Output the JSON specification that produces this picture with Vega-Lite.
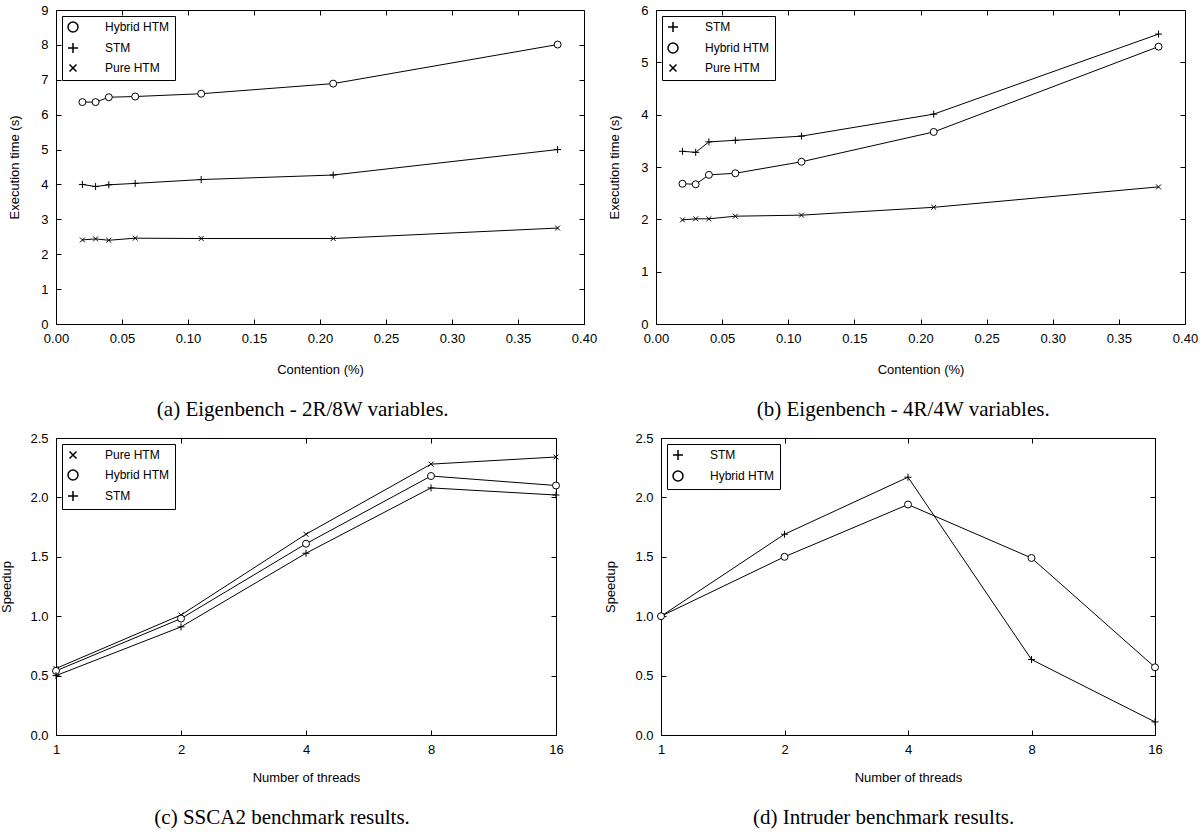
{
  "$schema": "https://vega.github.io/schema/vega-lite/v6.json",
  "background": "white",
  "padding": {"left": 0, "top": 3, "right": 0, "bottom": 0},
  "spacing": 10,
  "config": {
    "view": {"stroke": "black", "strokeWidth": 1},
    "axis": {"grid": false, "domain": false, "tickColor": "black", "tickSize": -5, "labelPadding": 13, "labelFont": "Liberation Sans", "labelFontSize": 13, "labelColor": "black", "titleFont": "Liberation Sans", "titleFontSize": 13, "titleFontWeight": "normal", "titleColor": "black"},
    "legend": {"orient": "top-left", "offset": 6, "strokeColor": "black", "fillColor": "white", "padding": 5, "labelFont": "Liberation Sans", "labelFontSize": 12, "labelColor": "black", "labelOffset": 26, "rowPadding": 5, "cornerRadius": 0},
    "title": {"font": "Liberation Serif", "fontSize": 21, "fontWeight": "normal", "color": "black", "orient": "bottom", "anchor": "middle", "frame": "bounds", "offset": 23}
  },
  "datasets": {
    "a": [
      {"series": "Hybrid HTM", "contention": 0.02, "time": 6.36},
      {"series": "Hybrid HTM", "contention": 0.03, "time": 6.36},
      {"series": "Hybrid HTM", "contention": 0.04, "time": 6.50},
      {"series": "Hybrid HTM", "contention": 0.06, "time": 6.52},
      {"series": "Hybrid HTM", "contention": 0.11, "time": 6.60},
      {"series": "Hybrid HTM", "contention": 0.21, "time": 6.89},
      {"series": "Hybrid HTM", "contention": 0.38, "time": 8.01},
      {"series": "STM", "contention": 0.02, "time": 4.00},
      {"series": "STM", "contention": 0.03, "time": 3.94},
      {"series": "STM", "contention": 0.04, "time": 3.99},
      {"series": "STM", "contention": 0.06, "time": 4.03},
      {"series": "STM", "contention": 0.11, "time": 4.14},
      {"series": "STM", "contention": 0.21, "time": 4.27},
      {"series": "STM", "contention": 0.38, "time": 5.00},
      {"series": "Pure HTM", "contention": 0.02, "time": 2.41},
      {"series": "Pure HTM", "contention": 0.03, "time": 2.44},
      {"series": "Pure HTM", "contention": 0.04, "time": 2.40},
      {"series": "Pure HTM", "contention": 0.06, "time": 2.46},
      {"series": "Pure HTM", "contention": 0.11, "time": 2.45},
      {"series": "Pure HTM", "contention": 0.21, "time": 2.45},
      {"series": "Pure HTM", "contention": 0.38, "time": 2.75}
    ],
    "b": [
      {"series": "STM", "contention": 0.02, "time": 3.30},
      {"series": "STM", "contention": 0.03, "time": 3.28},
      {"series": "STM", "contention": 0.04, "time": 3.48},
      {"series": "STM", "contention": 0.06, "time": 3.51},
      {"series": "STM", "contention": 0.11, "time": 3.59},
      {"series": "STM", "contention": 0.21, "time": 4.01},
      {"series": "STM", "contention": 0.38, "time": 5.54},
      {"series": "Hybrid HTM", "contention": 0.02, "time": 2.68},
      {"series": "Hybrid HTM", "contention": 0.03, "time": 2.67},
      {"series": "Hybrid HTM", "contention": 0.04, "time": 2.85},
      {"series": "Hybrid HTM", "contention": 0.06, "time": 2.88},
      {"series": "Hybrid HTM", "contention": 0.11, "time": 3.10},
      {"series": "Hybrid HTM", "contention": 0.21, "time": 3.67},
      {"series": "Hybrid HTM", "contention": 0.38, "time": 5.30},
      {"series": "Pure HTM", "contention": 0.02, "time": 1.99},
      {"series": "Pure HTM", "contention": 0.03, "time": 2.01},
      {"series": "Pure HTM", "contention": 0.04, "time": 2.01},
      {"series": "Pure HTM", "contention": 0.06, "time": 2.06},
      {"series": "Pure HTM", "contention": 0.11, "time": 2.08},
      {"series": "Pure HTM", "contention": 0.21, "time": 2.23},
      {"series": "Pure HTM", "contention": 0.38, "time": 2.62}
    ],
    "c": [
      {"series": "Pure HTM", "threads": 1, "speedup": 0.56},
      {"series": "Pure HTM", "threads": 2, "speedup": 1.01},
      {"series": "Pure HTM", "threads": 4, "speedup": 1.69},
      {"series": "Pure HTM", "threads": 8, "speedup": 2.28},
      {"series": "Pure HTM", "threads": 16, "speedup": 2.34},
      {"series": "Hybrid HTM", "threads": 1, "speedup": 0.54},
      {"series": "Hybrid HTM", "threads": 2, "speedup": 0.98},
      {"series": "Hybrid HTM", "threads": 4, "speedup": 1.61},
      {"series": "Hybrid HTM", "threads": 8, "speedup": 2.18},
      {"series": "Hybrid HTM", "threads": 16, "speedup": 2.10},
      {"series": "STM", "threads": 1, "speedup": 0.50},
      {"series": "STM", "threads": 2, "speedup": 0.91},
      {"series": "STM", "threads": 4, "speedup": 1.53},
      {"series": "STM", "threads": 8, "speedup": 2.08},
      {"series": "STM", "threads": 16, "speedup": 2.02}
    ],
    "d": [
      {"series": "STM", "threads": 1, "speedup": 1.00},
      {"series": "STM", "threads": 2, "speedup": 1.69},
      {"series": "STM", "threads": 4, "speedup": 2.17},
      {"series": "STM", "threads": 8, "speedup": 0.635},
      {"series": "STM", "threads": 16, "speedup": 0.11},
      {"series": "Hybrid HTM", "threads": 1, "speedup": 1.00},
      {"series": "Hybrid HTM", "threads": 2, "speedup": 1.50},
      {"series": "Hybrid HTM", "threads": 4, "speedup": 1.94},
      {"series": "Hybrid HTM", "threads": 8, "speedup": 1.49},
      {"series": "Hybrid HTM", "threads": 16, "speedup": 0.57}
    ]
  },
  "resolve": {"scale": {"shape": "independent"}, "legend": {"shape": "independent"}},
  "vconcat": [
    {
      "spacing": 10,
      "resolve": {"scale": {"shape": "independent"}, "legend": {"shape": "independent"}},
      "hconcat": [
        {
          "width": 528, "height": 314,
          "title": {"text": "(a) Eigenbench - 2R/8W variables."},
          "data": {"name": "a"},
          "layer": [
            {"mark": {"type": "line", "color": "black", "strokeWidth": 1},
             "encoding": {
               "x": {"field": "contention", "type": "quantitative", "scale": {"domain": [0, 0.4], "nice": false, "zero": false, "padding": 0}, "axis": {"title": "Contention (%)", "values": [0, 0.05, 0.1, 0.15, 0.2, 0.25, 0.3, 0.35, 0.4], "format": ".2f", "labelFlush": false, "titlePadding": 18}},
               "y": {"field": "time", "type": "quantitative", "scale": {"domain": [0, 9], "nice": false, "padding": 0}, "axis": {"title": "Execution time (s)", "values": [0, 1, 2, 3, 4, 5, 6, 7, 8, 9], "format": "d", "labelFlush": false, "titlePadding": 19}},
               "detail": {"field": "series", "type": "nominal"}
             }},
            {"mark": {"type": "point", "filled": true, "fill": "white", "stroke": "black", "strokeWidth": 1, "size": 49, "opacity": 1},
             "encoding": {
               "x": {"field": "contention", "type": "quantitative", "axis": {"orient": "top", "labels": false, "title": null, "values": [0, 0.05, 0.1, 0.15, 0.2, 0.25, 0.3, 0.35, 0.4]}},
               "y": {"field": "time", "type": "quantitative", "axis": {"orient": "right", "labels": false, "title": null, "values": [0, 1, 2, 3, 4, 5, 6, 7, 8, 9]}},
               "shape": {"field": "series", "type": "nominal",
                 "scale": {"domain": ["Hybrid HTM", "STM", "Pure HTM"], "range": ["circle", "M-1,0L1,0M0,-1L0,1", "M-0.7,-0.7L0.7,0.7M-0.7,0.7L0.7,-0.7"]},
                 "legend": {"title": null, "encode": {"symbols": {"size": {"value": 64}, "stroke": {"value": "black"}, "fill": {"value": "white"}}}}}
             }}
          ],
          "resolve": {"axis": {"x": "independent", "y": "independent"}}
        },
        {
          "width": 529, "height": 314,
          "title": {"text": "(b) Eigenbench - 4R/4W variables."},
          "data": {"name": "b"},
          "layer": [
            {"mark": {"type": "line", "color": "black", "strokeWidth": 1},
             "encoding": {
               "x": {"field": "contention", "type": "quantitative", "scale": {"domain": [0, 0.4], "nice": false, "zero": false, "padding": 0}, "axis": {"title": "Contention (%)", "values": [0, 0.05, 0.1, 0.15, 0.2, 0.25, 0.3, 0.35, 0.4], "format": ".2f", "labelFlush": false, "titlePadding": 18}},
               "y": {"field": "time", "type": "quantitative", "scale": {"domain": [0, 6], "nice": false, "padding": 0}, "axis": {"title": "Execution time (s)", "values": [0, 1, 2, 3, 4, 5, 6], "format": "d", "labelFlush": false, "titlePadding": 19}},
               "detail": {"field": "series", "type": "nominal"}
             }},
            {"mark": {"type": "point", "filled": true, "fill": "white", "stroke": "black", "strokeWidth": 1, "size": 49, "opacity": 1},
             "encoding": {
               "x": {"field": "contention", "type": "quantitative", "axis": {"orient": "top", "labels": false, "title": null, "values": [0, 0.05, 0.1, 0.15, 0.2, 0.25, 0.3, 0.35, 0.4]}},
               "y": {"field": "time", "type": "quantitative", "axis": {"orient": "right", "labels": false, "title": null, "values": [0, 1, 2, 3, 4, 5, 6]}},
               "shape": {"field": "series", "type": "nominal",
                 "scale": {"domain": ["STM", "Hybrid HTM", "Pure HTM"], "range": ["M-1,0L1,0M0,-1L0,1", "circle", "M-0.7,-0.7L0.7,0.7M-0.7,0.7L0.7,-0.7"]},
                 "legend": {"title": null, "encode": {"symbols": {"size": {"value": 64}, "stroke": {"value": "black"}, "fill": {"value": "white"}}}}}
             }}
          ],
          "resolve": {"axis": {"x": "independent", "y": "independent"}}
        }
      ]
    },
    {
      "spacing": 40,
      "resolve": {"scale": {"shape": "independent"}, "legend": {"shape": "independent"}},
      "hconcat": [
        {
          "width": 500, "height": 297,
          "title": {"text": "(c) SSCA2 benchmark results."},
          "data": {"name": "c"},
          "layer": [
            {"mark": {"type": "line", "color": "black", "strokeWidth": 1},
             "encoding": {
               "x": {"field": "threads", "type": "quantitative", "scale": {"type": "log", "base": 2, "domain": [1, 16], "nice": false, "padding": 0}, "axis": {"title": "Number of threads", "values": [1, 2, 4, 8, 16], "format": "d", "labelFlush": false, "titlePadding": 15}},
               "y": {"field": "speedup", "type": "quantitative", "scale": {"domain": [0, 2.5], "nice": false, "padding": 0}, "axis": {"title": "Speedup", "values": [0, 0.5, 1, 1.5, 2, 2.5], "format": ".1f", "labelFlush": false, "titlePadding": 16}},
               "detail": {"field": "series", "type": "nominal"}
             }},
            {"mark": {"type": "point", "filled": true, "fill": "white", "stroke": "black", "strokeWidth": 1, "size": 49, "opacity": 1},
             "encoding": {
               "x": {"field": "threads", "type": "quantitative", "axis": {"orient": "top", "labels": false, "title": null, "values": [1, 2, 4, 8, 16]}},
               "y": {"field": "speedup", "type": "quantitative", "axis": {"orient": "right", "labels": false, "title": null, "values": [0, 0.5, 1, 1.5, 2, 2.5]}},
               "shape": {"field": "series", "type": "nominal",
                 "scale": {"domain": ["Pure HTM", "Hybrid HTM", "STM"], "range": ["M-0.7,-0.7L0.7,0.7M-0.7,0.7L0.7,-0.7", "circle", "M-1,0L1,0M0,-1L0,1"]},
                 "legend": {"title": null, "encode": {"symbols": {"size": {"value": 64}, "stroke": {"value": "black"}, "fill": {"value": "white"}}}}}
             }}
          ],
          "resolve": {"axis": {"x": "independent", "y": "independent"}}
        },
        {
          "width": 494, "height": 297,
          "title": {"text": "(d) Intruder benchmark results."},
          "data": {"name": "d"},
          "layer": [
            {"mark": {"type": "line", "color": "black", "strokeWidth": 1},
             "encoding": {
               "x": {"field": "threads", "type": "quantitative", "scale": {"type": "log", "base": 2, "domain": [1, 16], "nice": false, "padding": 0}, "axis": {"title": "Number of threads", "values": [1, 2, 4, 8, 16], "format": "d", "labelFlush": false, "titlePadding": 15}},
               "y": {"field": "speedup", "type": "quantitative", "scale": {"domain": [0, 2.5], "nice": false, "padding": 0}, "axis": {"title": "Speedup", "values": [0, 0.5, 1, 1.5, 2, 2.5], "format": ".1f", "labelFlush": false, "titlePadding": 17}},
               "detail": {"field": "series", "type": "nominal"}
             }},
            {"mark": {"type": "point", "filled": true, "fill": "white", "stroke": "black", "strokeWidth": 1, "size": 49, "opacity": 1},
             "encoding": {
               "x": {"field": "threads", "type": "quantitative", "axis": {"orient": "top", "labels": false, "title": null, "values": [1, 2, 4, 8, 16]}},
               "y": {"field": "speedup", "type": "quantitative", "axis": {"orient": "right", "labels": false, "title": null, "values": [0, 0.5, 1, 1.5, 2, 2.5]}},
               "shape": {"field": "series", "type": "nominal",
                 "scale": {"domain": ["STM", "Hybrid HTM"], "range": ["M-1,0L1,0M0,-1L0,1", "circle"]},
                 "legend": {"title": null, "encode": {"symbols": {"size": {"value": 64}, "stroke": {"value": "black"}, "fill": {"value": "white"}}}}}
             }}
          ],
          "resolve": {"axis": {"x": "independent", "y": "independent"}}
        }
      ]
    }
  ]
}
